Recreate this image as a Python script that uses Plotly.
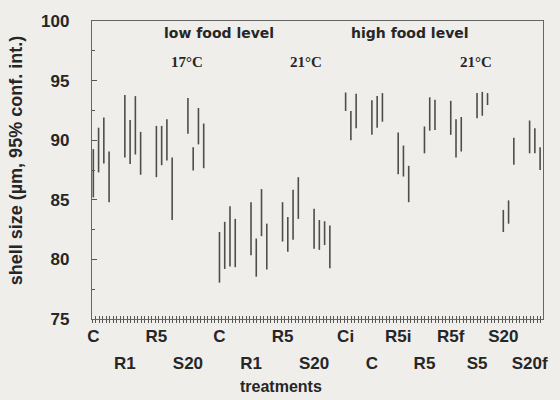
import plotly.graph_objects as go

# Treatment names, low food level (17 °C then 21 °C), four replicates each
low_treatments = ["C", "R1", "R5", "S20", "C", "R1", "R5", "S20"]
# Treatment names, high food level (21 °C), three replicates each
high_treatments = ["Ci", "C", "R5i", "R5", "R5f", "S5", "S20", "S20f"]

# 95% confidence limits of shell size (µm) per replicate
low_lower = [
    [85.2, 87.3, 88.05, 84.8],
    [88.55, 88.0, 88.8, 87.1],
    [86.9, 87.9, 88.3, 83.3],
    [90.55, 87.45, 89.65, 87.65],
    [78.05, 79.2, 79.4, 79.35],
    [80.35, 78.55, 81.95, 79.15],
    [81.5, 80.65, 81.65, 83.4],
    [80.9, 80.8, 81.2, 79.25],
]
low_upper = [
    [89.25, 91.05, 91.9, 89.05],
    [93.8, 91.7, 93.7, 90.7],
    [91.2, 91.2, 91.75, 88.55],
    [93.55, 89.4, 92.7, 91.4],
    [82.3, 83.15, 84.45, 83.4],
    [84.8, 81.75, 85.9, 83.0],
    [84.8, 83.55, 85.85, 86.9],
    [84.25, 83.3, 83.2, 82.85],
]
high_lower = [
    [92.45, 90.0, 91.0],
    [90.45, 91.05, 91.55],
    [87.15, 86.95, 84.8],
    [88.9, 90.8, 90.85],
    [90.45, 88.55, 89.05],
    [91.85, 92.05, 92.95],
    [82.3, 83.0, 87.95],
    [88.9, 88.9, 87.5],
]
high_upper = [
    [94.0, 92.45, 93.9],
    [93.35, 93.7, 93.95],
    [90.65, 89.55, 87.85],
    [91.15, 93.6, 93.4],
    [93.3, 91.75, 91.95],
    [93.95, 94.05, 93.95],
    [84.15, 84.95, 90.2],
    [91.65, 91.0, 89.4],
]

y_ticks = [75, 80, 85, 90, 95, 100]

BG = "#efeeea"
INK = "#262626"
AXIS = "#666666"
TICK = "#555555"
BAR = "#4d4d4d"

# Slot layout: each low-food group takes 4 bars + 2 empty slots,
# each high-food group takes 3 bars + 2 empty slots.
group_start = []
xs, ys = [], []
slot = 0
for lo_set, hi_set in ((low_lower, low_upper), (high_lower, high_upper)):
    for lo_g, hi_g in zip(lo_set, hi_set):
        group_start.append(slot)
        for j, (lo, hi) in enumerate(zip(lo_g, hi_g)):
            xs += [slot + j, slot + j, None]
            ys += [lo, hi, None]
        slot += len(lo_g) + 2

labels = low_treatments + high_treatments
row1_pos = group_start[0::2]
row1_txt = labels[0::2]
row2_pos = group_start[1::2]
row2_txt = labels[1::2]

x_range = [-0.25, 85.55]

fig = go.Figure()
fig.add_trace(go.Scatter(
    x=xs, y=ys, mode="lines",
    line=dict(color=BAR, width=1.6),
    hoverinfo="skip", showlegend=False,
))
# transparent copies so the overlay axes have data of their own
for ax in ["x2", "x3", "x4"]:
    fig.add_trace(go.Scatter(x=xs, y=ys, mode="lines", xaxis=ax, yaxis="y",
                             line=dict(width=0), opacity=0,
                             showlegend=False, hoverinfo="skip"))

tick_font = dict(family="Liberation Sans, Arial, sans-serif", size=17, color=INK,
                 weight="bold")

fig.update_layout(
    width=560, height=400,
    margin=dict(l=92, r=12, t=19, b=81),
    paper_bgcolor=BG, plot_bgcolor=BG,
    showlegend=False,
    # main axis: frame and the dense outward tick marks
    xaxis=dict(
        range=x_range, tickmode="linear", tick0=-0.25, dtick=2 / 3,
        ticks="outside", ticklen=3, tickwidth=1.1, tickcolor=TICK,
        showticklabels=False, showgrid=False, zeroline=False,
        showline=True, mirror=True, linecolor=AXIS, linewidth=1.3,
    ),
    # dense inward tick marks
    xaxis4=dict(
        range=x_range, overlaying="x", anchor="y", side="bottom",
        tickmode="linear", tick0=-0.25, dtick=2 / 3,
        ticks="inside", ticklen=3, tickwidth=1.1, tickcolor=TICK,
        showticklabels=False, showgrid=False, zeroline=False, showline=False,
    ),
    # first row of treatment names
    xaxis2=dict(
        range=x_range, overlaying="x", anchor="y", side="bottom",
        tickmode="array", tickvals=row1_pos, ticktext=row1_txt,
        ticks="", showgrid=False, zeroline=False, showline=False,
        tickfont=tick_font, ticklabelstandoff=5,
    ),
    # second row of treatment names
    xaxis3=dict(
        range=x_range, overlaying="x", anchor="y", side="bottom",
        tickmode="array", tickvals=row2_pos, ticktext=row2_txt,
        ticks="", showgrid=False, zeroline=False, showline=False,
        tickfont=tick_font, ticklabelstandoff=32,
    ),
    yaxis=dict(
        range=[75, 100], tickmode="array", tickvals=y_ticks,
        ticks="inside", ticklen=5, tickcolor=TICK, tickwidth=1.3,
        minor=dict(dtick=2.5, ticks="inside", ticklen=3, tickcolor=TICK,
                   tickwidth=1.1),
        showgrid=False, zeroline=False,
        showline=True, mirror=True, linecolor=AXIS, linewidth=1.3,
        tickfont=tick_font, ticklabelstandoff=18,
    ),
)

ann_font = dict(family="DejaVu Sans, sans-serif", size=14, color=INK)
serif_font = dict(family="Liberation Serif, Times New Roman, serif", size=15, color=INK)
annotations = [
    dict(text="<b>low food level</b>", x=23.85, y=0.96, font=ann_font),
    dict(text="<b>high food level</b>", x=60.3, y=0.96, font=ann_font),
    dict(text="<b>17°C</b>", x=17.8, y=0.863, font=serif_font),
    dict(text="<b>21°C</b>", x=40.4, y=0.863, font=serif_font),
    dict(text="<b>21°C</b>", x=72.8, y=0.863, font=serif_font),
]
for a in annotations:
    fig.add_annotation(xref="x", yref="paper", showarrow=False,
                       xanchor="center", yanchor="middle", **a)

fig.add_annotation(text="<b>treatments</b>", xref="paper", yref="paper",
                   x=0.419, y=-0.225, showarrow=False,
                   xanchor="center", yanchor="middle",
                   font=dict(family="Liberation Sans, Arial, sans-serif",
                             size=16, color=INK))
fig.add_annotation(text="<b>shell size (µm, 95% conf. int.)</b>", xref="paper",
                   yref="paper", x=-0.168, y=0.53, textangle=-90,
                   showarrow=False, xanchor="center", yanchor="middle",
                   font=dict(family="Liberation Sans, Arial, sans-serif",
                             size=18, color=INK))

fig.write_html("out.html")
